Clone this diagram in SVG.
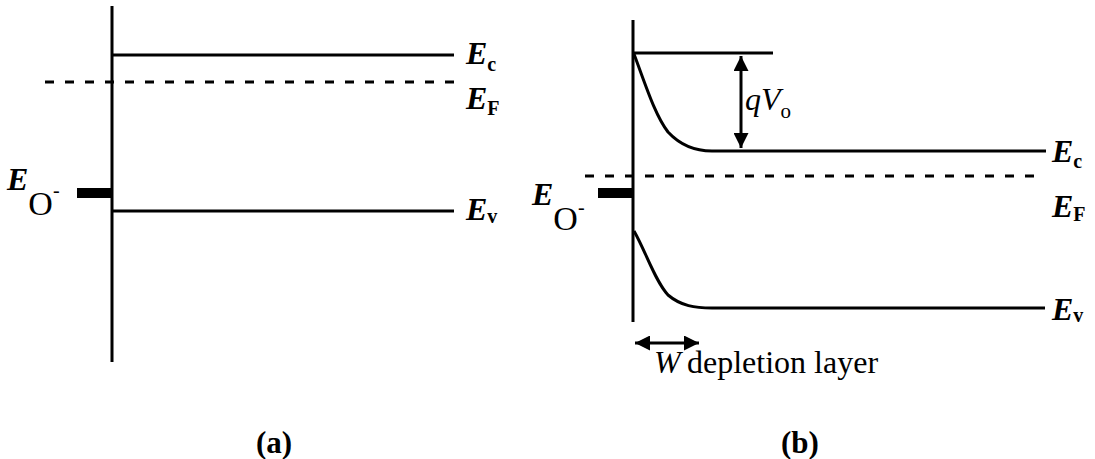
<svg xmlns="http://www.w3.org/2000/svg" width="1095" height="459" viewBox="0 0 1095 459">
<style>
.ln{stroke:#000;stroke-width:3;fill:none;stroke-linecap:butt}
.dash{stroke:#000;stroke-width:3;fill:none;stroke-dasharray:9 11}
.E{font-family:"Liberation Serif",serif;font-style:italic;font-weight:bold;font-size:32px;fill:#000}
.sub{font-family:"Liberation Serif",serif;font-style:normal;font-weight:bold;font-size:20px}
.O{font-family:"Liberation Serif",serif;font-style:normal;font-weight:normal;font-size:34px}
.mi{font-family:"Liberation Serif",serif;font-style:normal;font-weight:normal;font-size:20px}
.it{font-family:"Liberation Serif",serif;font-style:italic;font-weight:normal;font-size:32px;fill:#000}
.subn{font-family:"Liberation Serif",serif;font-style:normal;font-weight:normal;font-size:21px}
.t{font-family:"Liberation Serif",serif;font-size:32px;fill:#000}
.cap{font-family:"Liberation Serif",serif;font-size:31px;font-weight:bold;fill:#000}
</style>
<defs>
<marker id="ah" viewBox="0 0 10 10" refX="10" refY="5" markerWidth="5" markerHeight="5" orient="auto-start-reverse" markerUnits="strokeWidth">
<path d="M0,0 L10,5 L0,10 Z" fill="#000"/>
</marker>
</defs>
<rect width="1095" height="459" fill="#fff"/>
<g id="panel-a">
<line class="ln" x1="112" y1="6" x2="112" y2="362"/>
<line class="ln" x1="112" y1="55" x2="454" y2="55"/>
<line class="dash" x1="45" y1="82" x2="456" y2="82"/>
<line class="ln" x1="112" y1="211" x2="454" y2="211"/>
<rect x="77" y="188" width="35" height="10" fill="#000"/>
<text class="E" x="466" y="64">E<tspan class="sub" dy="7">c</tspan></text>
<text class="E" x="466" y="109">E<tspan class="sub" dy="6">F</tspan></text>
<text class="E" x="466" y="220">E<tspan class="sub" dy="3">v</tspan></text>
<text class="E" x="7" y="190">E<tspan class="O" dy="25">O</tspan><tspan class="mi" dy="-18">-</tspan></text>
</g>
<g id="panel-b">
<line class="ln" x1="633" y1="20" x2="633" y2="322"/>
<line class="ln" x1="633" y1="53" x2="773" y2="53"/>
<path class="ln" d="M634,54 C646,86 655,115 668,132 C681,146 695,151 712,151 L1046,151"/>
<line class="dash" x1="585" y1="176" x2="1043" y2="176"/>
<path class="ln" d="M634,231 C646,252 655,281 668,295 C681,306 695,308 712,308 L1045,308"/>
<rect x="598" y="188" width="34" height="10" fill="#000"/>
<text class="E" x="1052" y="162">E<tspan class="sub" dy="6">c</tspan></text>
<text class="E" x="1052" y="217">E<tspan class="sub" dy="4">F</tspan></text>
<text class="E" x="1052" y="320">E<tspan class="sub" dy="2">v</tspan></text>
<text class="E" x="532" y="205">E<tspan class="O" dy="25">O</tspan><tspan class="mi" dy="-16">-</tspan></text>
<text class="it" x="745" y="110">qV<tspan class="subn" dy="8">o</tspan></text>
<text class="it" x="654" y="373">W</text>
<text class="t" x="687" y="373">depletion layer</text>
</g>
<g id="connectors">
<line class="ln" x1="741" y1="56" x2="741" y2="148" marker-start="url(#ah)" marker-end="url(#ah)"/>
<line class="ln" x1="635" y1="343" x2="699" y2="343" marker-start="url(#ah)" marker-end="url(#ah)"/>
</g>
<g id="captions">
<text class="cap" x="274" y="453" text-anchor="middle">(a)</text>
<text class="cap" x="800" y="453" text-anchor="middle">(b)</text>
</g>
</svg>
